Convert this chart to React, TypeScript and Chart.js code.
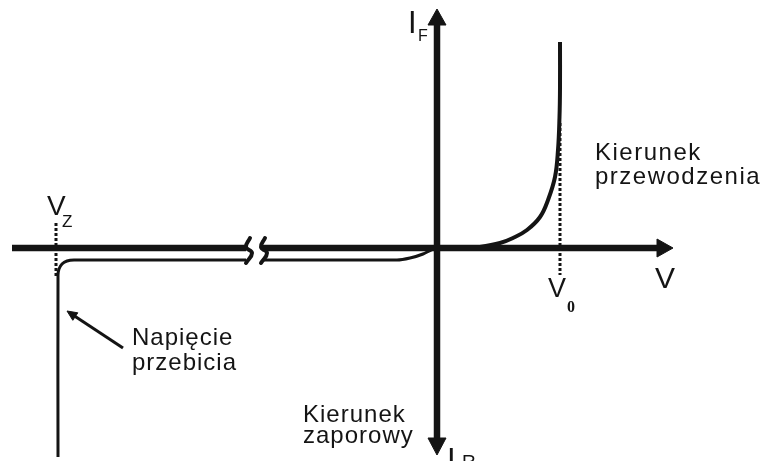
import React, { useEffect, useRef } from "react";
import { Chart, registerables } from "chart.js";

Chart.register(...registerables);

// Schematic units: x = voltage, y = current, origin at the crossing of the axes.
const axisLeft = [[-4.25, 0], [-1.91, 0]];
const axisRight = [[-1.75, 0], [2.21, 0]];
const axisVertical = [[0, 2.23], [0, -1.91]];
const arrowV = [[2.2, 0.09], [2.36, 0], [2.2, -0.09], [2.2, 0.09]];
const arrowIF = [[-0.09, 2.23], [0, 2.39], [0.09, 2.23], [-0.09, 2.23]];
const arrowIR = [[-0.09, -1.9], [0, -2.07], [0.09, -1.9], [-0.09, -1.9]];

const breakA = [[-1.87, 0.1], [-1.91, 0.01], [-1.85, -0.05], [-1.91, -0.15]];
const breakB = [[-1.72, 0.1], [-1.76, 0.01], [-1.7, -0.05], [-1.76, -0.15]];

const reverseFar = [
  [-3.79, -2.09], [-3.79, -0.27], [-3.78, -0.21], [-3.75, -0.16],
  [-3.7, -0.13], [-3.63, -0.12], [-1.91, -0.12],
];
const reverseNear = [
  [-1.75, -0.12], [-0.4, -0.12], [-0.27, -0.1], [-0.14, -0.06], [-0.06, -0.02], [0, 0],
];
const forward = [
  [0, 0], [0.3, 0], [0.43, 0.01], [0.63, 0.05], [0.76, 0.1], [0.9, 0.18],
  [1.03, 0.31], [1.11, 0.48], [1.18, 0.71], [1.21, 0.98], [1.225, 1.31],
  [1.23, 1.6], [1.23, 2.06],
];
const dashV0 = [[1.23, 1.25], [1.23, -0.27]];
const dashVz = [[-3.81, 0.25], [-3.81, -0.3]];
const pointer = [[-3.14, -1.0], [-3.64, -0.67]];
const pointerHead = [[-3.7, -0.63], [-3.642, -0.723], [-3.592, -0.648], [-3.7, -0.63]];

const labelTexts = [
  "I", "F", "V", "V", "0", "V", "Z",
  "Kierunek", "przewodzenia", "Napięcie", "przebicia",
  "Kierunek", "zaporowy", "I", "R",
];
// anchor (left, baseline) of each label in chart units
const labelX = [-0.29, -0.19, 2.18, 1.11, 1.3, -3.9, -3.75, 1.58, 1.58, -3.05, -3.05, -1.34, -1.34, 0.1, 0.25];
const labelY = [2.15, 2.07, -0.4, -0.49, -0.64, 0.33, 0.21, 0.88, 0.64, -0.97, -1.22, -1.74, -1.95, -2.22, -2.2];

const SANS = "'Liberation Sans', Arial, sans-serif";
const labelFont = [
  `31px ${SANS}`, `16px ${SANS}`, `30px ${SANS}`, `27px ${SANS}`, `bold 16px 'Liberation Serif', serif`,
  `28px ${SANS}`, `17px ${SANS}`,
  `24px ${SANS}`, `24px ${SANS}`, `24px ${SANS}`, `24px ${SANS}`,
  `24px ${SANS}`, `24px ${SANS}`, `31px ${SANS}`, `19px ${SANS}`,
];
const labelSpacing = [0, 0, 0, 0, 0, 0, 0, 1.5, 1.5, 1, 1, 1, 1, 0, 0];

const INK = "#141414";

const pts = (a: number[][]) => a.map(([x, y]) => ({ x, y }));

function line(data: number[][], width: number, extra: any = {}) {
  return {
    data: pts(data),
    showLine: true,
    borderColor: INK,
    backgroundColor: INK,
    borderWidth: width,
    pointRadius: 0,
    pointHoverRadius: 0,
    fill: false,
    tension: 0,
    ...extra,
  };
}

const labelPlugin = {
  id: "diagramLabels",
  afterDatasetsDraw(chart: any) {
    const { ctx, scales } = chart;
    ctx.save();
    ctx.fillStyle = INK;
    ctx.textAlign = "left";
    ctx.textBaseline = "alphabetic";
    labelTexts.forEach((t, i) => {
      ctx.font = labelFont[i];
      (ctx as any).letterSpacing = `${labelSpacing[i]}px`;
      ctx.fillText(t, scales.x.getPixelForValue(labelX[i]), scales.y.getPixelForValue(labelY[i]));
    });
    ctx.restore();
  },
};

export default function App() {
  const ref = useRef<HTMLCanvasElement | null>(null);
  useEffect(() => {
    document.body.style.margin = "0";
    if (!ref.current) return;
    const chart = new Chart(ref.current, {
      type: "scatter",
      data: {
        datasets: [
          line(dashV0, 3, { borderDash: [3, 2] }),
          line(dashVz, 3, { borderDash: [3, 2] }),
          line(axisLeft, 6.5),
          line(axisRight, 6.5),
          line(axisVertical, 6.5),
          line(arrowV, 1, { fill: "shape" }),
          line(arrowIF, 1, { fill: "shape" }),
          line(arrowIR, 1, { fill: "shape" }),
          line(breakA, 4, { tension: 0.45, borderCapStyle: "round" }),
          line(breakB, 4, { tension: 0.45, borderCapStyle: "round" }),
          line(reverseFar, 3, { tension: 0.3 }),
          line(reverseNear, 3, { cubicInterpolationMode: "monotone" }),
          line(forward, 4, { tension: 0.4 }),
          line(pointer, 3),
          line(pointerHead, 1, { fill: "shape" }),
        ] as any,
      },
      options: {
        responsive: false,
        animation: false,
        events: [],
        layout: { padding: 0 },
        plugins: { legend: { display: false }, tooltip: { enabled: false } },
        scales: {
          x: { type: "linear", min: -4.37, max: 3.24, display: false },
          y: { type: "linear", min: -2.13, max: 2.48, display: false },
        },
      },
      plugins: [labelPlugin],
    });
    return () => chart.destroy();
  }, []);
  return <canvas ref={ref} width={761} height={461} style={{ display: "block" }} />;
}
